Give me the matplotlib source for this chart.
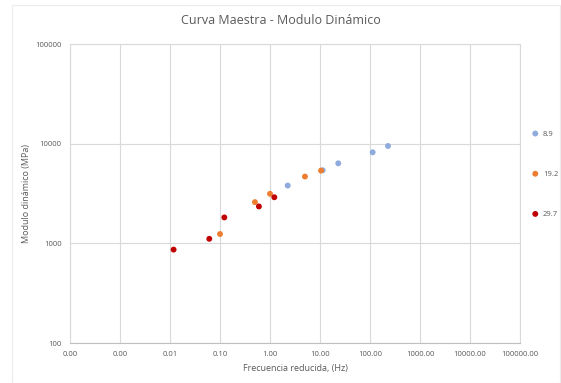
import matplotlib.pyplot as plt
import numpy as np
from matplotlib.patches import Rectangle
from matplotlib.ticker import FixedLocator, FuncFormatter, NullLocator

plt.rcParams['font.family'] = ['Open Sans', 'DejaVu Sans']

# Data (frequency in Hz, modulus in MPa) per temperature
series_labels = ['8.9', '19.2', '29.7']
freq_89 = [229, 113, 23.2, 11.3, 2.26]
mod_89 = [9480, 8190, 6350, 5410, 3800]
freq_192 = [5.0, 10.5, 1.0, 0.5, 0.1]
mod_192 = [4680, 5370, 3140, 2590, 1240]
freq_297 = [1.22, 0.6, 0.122, 0.061, 0.0118]
mod_297 = [2900, 2345, 1820, 1110, 865]

x_ticks = [1e-4, 1e-3, 1e-2, 1e-1, 1, 10, 100, 1000, 1e4, 1e5]
y_ticks = [100, 1000, 10000, 100000]

colors = ['#8faadc', '#ed7d31', '#c00000']
grid_c = '#d9d9d9'
text_c = '#595959'

fig = plt.figure(figsize=(5.61, 3.83), dpi=100)
ax = fig.add_axes([70 / 561, 40 / 383, 450 / 561, 299 / 383])

# faint chart-area border
fig.patches.append(Rectangle((12 / 561, 0.0), 548 / 561, 378 / 383,
                             transform=fig.transFigure, fill=False,
                             edgecolor='#ececec', linewidth=0.8))

for fx, my, c, lab in zip([freq_89, freq_192, freq_297],
                          [mod_89, mod_192, mod_297], colors, series_labels):
    ax.scatter(fx, my, s=18, color=c, label=lab, zorder=3, edgecolors='none')

ax.set_xscale('log')
ax.set_yscale('log')
ax.set_xlim(1e-4, 1e5)
ax.set_ylim(100, 100000)
ax.xaxis.set_major_locator(FixedLocator(x_ticks))
ax.yaxis.set_major_locator(FixedLocator(y_ticks))
ax.xaxis.set_minor_locator(NullLocator())
ax.yaxis.set_minor_locator(NullLocator())
ax.xaxis.set_major_formatter(FuncFormatter(lambda v, p: f'{v:.2f}'))
ax.yaxis.set_major_formatter(FuncFormatter(lambda v, p: f'{v:.0f}'))

ax.grid(True, color=grid_c, linewidth=0.8)
ax.set_axisbelow(True)
for s in ax.spines.values():
    s.set_color(grid_c)
    s.set_linewidth(0.8)
ax.spines['bottom'].set_color('#bfbfbf')
ax.tick_params(length=0, labelsize=5.5, colors=text_c, pad=6)

ax.set_xlabel('Frecuencia reducida, (Hz)', fontsize=6.5, color=text_c, labelpad=4)
ax.set_ylabel('Modulo dinámico (MPa)', fontsize=6.5, color=text_c, labelpad=3)
fig.text(0.5, 1 - 20 / 383, 'Curva Maestra - Modulo Dinámico',
         ha='center', va='center', fontsize=9, color=text_c)

ax.legend(loc='center left', bbox_to_anchor=(1.0, 0.565), frameon=False,
          fontsize=5.5, labelcolor=text_c, handletextpad=0.0,
          labelspacing=4.3, markerscale=1.0, borderaxespad=0.6)

fig.savefig('out.png', dpi=100)
